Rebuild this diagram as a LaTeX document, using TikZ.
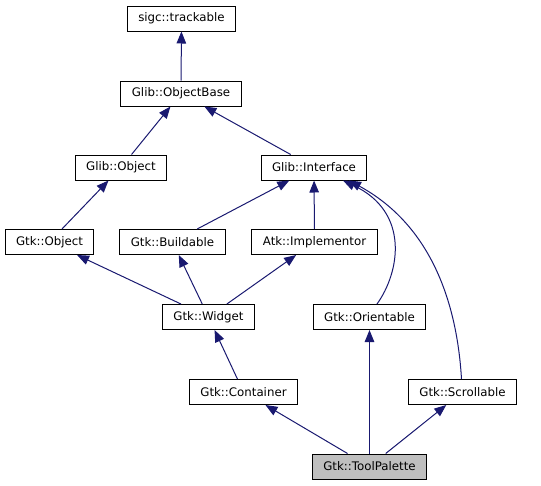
\documentclass[tikz,border=0pt]{standalone}
\usepackage{fontspec}
\setmainfont{DejaVu Sans}
\usepackage{xcolor}
\usetikzlibrary{arrows.meta}
\definecolor{edge-blue}{HTML}{191970}
\definecolor{current-gray}{HTML}{BFBFBF}
\tikzset{
    class-box/.style = {draw=black, fill=white, line width=1pt, rectangle, inner xsep=11pt, inner ysep=0pt, minimum height=25pt, font=\fontsize{11.8}{14}\selectfont},
    class-box-current/.style = {class-box, fill=current-gray},
    inherit-edge/.style = {draw=edge-blue, line width=1pt, -{Triangle[length=12pt, width=9.5pt, fill=edge-blue]}},
}

\begin{document}
\begin{tikzpicture}[x=1pt, y=-1pt]
\useasboundingbox (0,0) rectangle (541,485);
\node [class-box] (track) at (181.5,18.5) {sigc::trackable};
\node [class-box] (base) at (181,93.5) {Glib::ObjectBase};
\node [class-box] (gobj) at (121,167.5) {Glib::Object};
\node [class-box] (iface) at (314,167.5) {Glib::Interface};
\node [class-box] (gtkobj) at (49.5,242) {Gtk::Object};
\node [class-box] (build) at (172.5,242) {Gtk::Buildable};
\node [class-box] (impl) at (314.5,242) {Atk::Implementor};
\node [class-box] (widget) at (208.5,317) {Gtk::Widget};
\node [class-box] (orient) at (369.5,317) {Gtk::Orientable};
\node [class-box] (cont) at (243.5,392) {Gtk::Container};
\node [class-box] (scroll) at (462.5,392) {Gtk::Scrollable};
\node [class-box-current] (palette) at (369.5,466.5) {Gtk::ToolPalette};

\draw [inherit-edge] (base) -- (track);
\draw [inherit-edge] (gobj) -- (base);
\draw [inherit-edge] (iface) -- (base);
\draw [inherit-edge] (gtkobj) -- (gobj);
\draw [inherit-edge] (build) -- (iface);
\draw [inherit-edge] (impl) -- (iface);
\draw [inherit-edge] ([xshift=7.5pt]orient.north) .. controls (400,272) and (410,212) .. ([xshift=29pt]iface.south);
\draw [inherit-edge] ([xshift=-1pt]scroll.north) .. controls (458,320) and (440,230) .. ([xshift=35pt]iface.south);
\draw [inherit-edge] (widget) -- (gtkobj);
\draw [inherit-edge] (widget) -- (build);
\draw [inherit-edge] (widget) -- (impl);
\draw [inherit-edge] (cont) -- (widget);
\draw [inherit-edge] (palette) -- (cont);
\draw [inherit-edge] (palette) -- (orient);
\draw [inherit-edge] (palette) -- (scroll);
\end{tikzpicture}
\end{document}
